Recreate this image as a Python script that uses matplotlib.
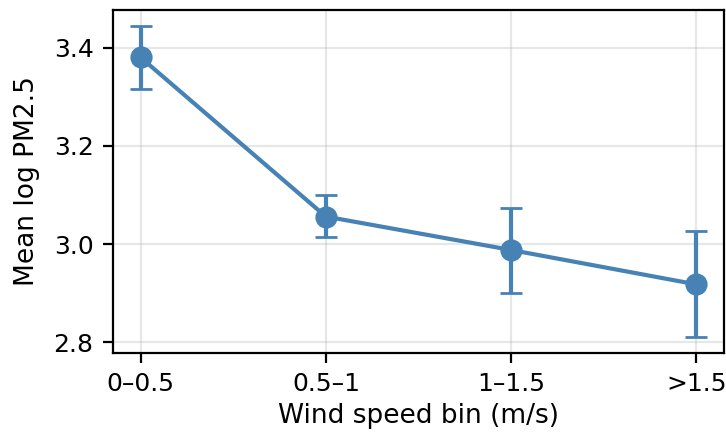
import matplotlib
matplotlib.use("Agg")
import matplotlib.pyplot as plt
from matplotlib.ticker import MultipleLocator

# Mean log PM2.5 per wind speed bin, with error bar limits
wind_bins = ["0\u20130.5", "0.5\u20131", "1\u20131.5", ">1.5"]
mean_log_pm25 = [3.380, 3.056, 2.988, 2.918]
err_lower = [3.316, 3.014, 2.901, 2.810]
err_upper = [3.445, 3.099, 3.074, 3.026]

yerr = [
    [m - lo for m, lo in zip(mean_log_pm25, err_lower)],
    [hi - m for m, hi in zip(mean_log_pm25, err_upper)],
]

fig, ax = plt.subplots(figsize=(3.63, 2.16), dpi=200)
fig.subplots_adjust(left=0.1556, right=0.9972, top=0.9769, bottom=0.1829)

x = list(range(len(wind_bins)))
ax.errorbar(
    x,
    mean_log_pm25,
    yerr=yerr,
    color="steelblue",
    marker="o",
    markersize=7,
    linewidth=1.5,
    capsize=4,
)

ax.set_xticks(x)
ax.set_xticklabels(wind_bins)
ax.yaxis.set_major_locator(MultipleLocator(0.2))
ax.tick_params(labelsize=9)
ax.set_xlabel("Wind speed bin (m/s)", fontsize=9.5, labelpad=2.5)
ax.set_ylabel("Mean log PM2.5", fontsize=9.5, labelpad=5)
ax.grid(True, alpha=0.3)

fig.savefig("out.png", dpi=200)
